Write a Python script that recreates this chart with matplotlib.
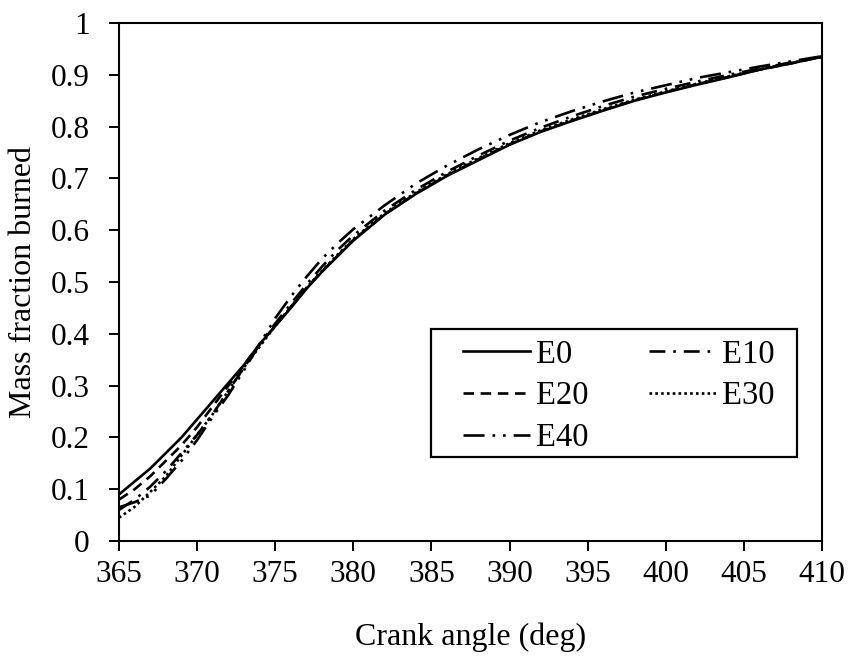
import matplotlib
matplotlib.use("Agg")
import matplotlib.pyplot as plt
from matplotlib.patches import Rectangle
from matplotlib.ticker import FuncFormatter

plt.rcParams["font.family"] = ["Liberation Serif", "DejaVu Serif"]

crank_angle = [365, 366, 367, 368, 369, 370, 371, 372, 373, 374, 375, 376, 377, 378, 379, 380,
               382, 384, 386, 388, 390, 392, 394, 396, 398, 400, 402, 404, 406, 408, 410]

e0 = [0.090, 0.115, 0.140, 0.170, 0.200, 0.235, 0.270, 0.305, 0.340, 0.380, 0.415, 0.450, 0.487, 0.520, 0.550, 0.580,
      0.630, 0.670, 0.705, 0.735, 0.765, 0.790, 0.811, 0.831, 0.850, 0.866, 0.881, 0.895, 0.910, 0.922, 0.935]
e10 = [0.060, 0.080, 0.105, 0.135, 0.170, 0.205, 0.245, 0.290, 0.335, 0.380, 0.420, 0.458, 0.495, 0.530, 0.562, 0.590,
       0.638, 0.678, 0.713, 0.744, 0.773, 0.798, 0.820, 0.840, 0.858, 0.873, 0.887, 0.900, 0.912, 0.924, 0.935]
e20 = [0.080, 0.100, 0.125, 0.155, 0.185, 0.220, 0.260, 0.300, 0.340, 0.380, 0.415, 0.452, 0.488, 0.521, 0.551, 0.581,
       0.631, 0.671, 0.706, 0.737, 0.766, 0.791, 0.812, 0.832, 0.851, 0.867, 0.882, 0.896, 0.910, 0.922, 0.935]
e30 = [0.045, 0.066, 0.095, 0.125, 0.165, 0.205, 0.245, 0.290, 0.335, 0.375, 0.415, 0.452, 0.489, 0.522, 0.553, 0.583,
       0.633, 0.673, 0.708, 0.739, 0.768, 0.793, 0.814, 0.834, 0.852, 0.868, 0.883, 0.897, 0.911, 0.923, 0.935]
e40 = [0.065, 0.075, 0.088, 0.120, 0.155, 0.195, 0.240, 0.282, 0.330, 0.380, 0.430, 0.472, 0.510, 0.545, 0.575, 0.602,
       0.648, 0.690, 0.725, 0.756, 0.784, 0.809, 0.830, 0.849, 0.866, 0.880, 0.894, 0.905, 0.916, 0.926, 0.936]

series = [
    ("E0", e0, "-"),
    ("E20", e20, (0, (4, 2.5))),
    ("E40", e40, (0, (8, 3, 1, 3, 1, 3))),
    ("E10", e10, (0, (6, 3, 1, 3))),
    ("E30", e30, (0, (1, 1.2))),
]

fig = plt.figure(figsize=(8.5, 6.59), dpi=100)
ax = fig.add_axes([0.140, 0.179, 0.827, 0.786])

for name, vals, ls in series:
    ax.plot(crank_angle, vals, color="black", linestyle=ls, linewidth=1.9, label=name)

ax.set_xlim(365, 410)
ax.set_ylim(0, 1)
ax.set_xticks(range(365, 411, 5))
ax.set_yticks([i / 10 for i in range(11)])
ax.yaxis.set_major_formatter(FuncFormatter(lambda v, p: f"{v:g}"))
ax.tick_params(direction="out", length=7, width=1.4, labelsize=22.5, colors="black")
ax.tick_params(axis="x", pad=6.5)
ax.tick_params(axis="y", pad=14)
for sp in ax.spines.values():
    sp.set_linewidth(1.5)

ax.set_xlabel("Crank angle (deg)", fontsize=23, labelpad=24)
ax.set_ylabel("Mass fraction burned", fontsize=23, labelpad=9)

# legend frame drawn separately (wider side padding than matplotlib's borderpad)
ax.add_patch(Rectangle((0.444, 0.162), 0.520, 0.247, transform=ax.transAxes,
                       facecolor="white", edgecolor="black", linewidth=1.6, zorder=4))
leg = ax.legend(ncol=2, loc="upper left", bbox_to_anchor=(0.489, 0.390), fontsize=23.5,
                frameon=False, handlelength=2.05, handletextpad=0.2, columnspacing=1.85,
                labelspacing=0.35, borderpad=0, borderaxespad=0)
leg.set_zorder(5)

fig.savefig("out.png", dpi=100)
